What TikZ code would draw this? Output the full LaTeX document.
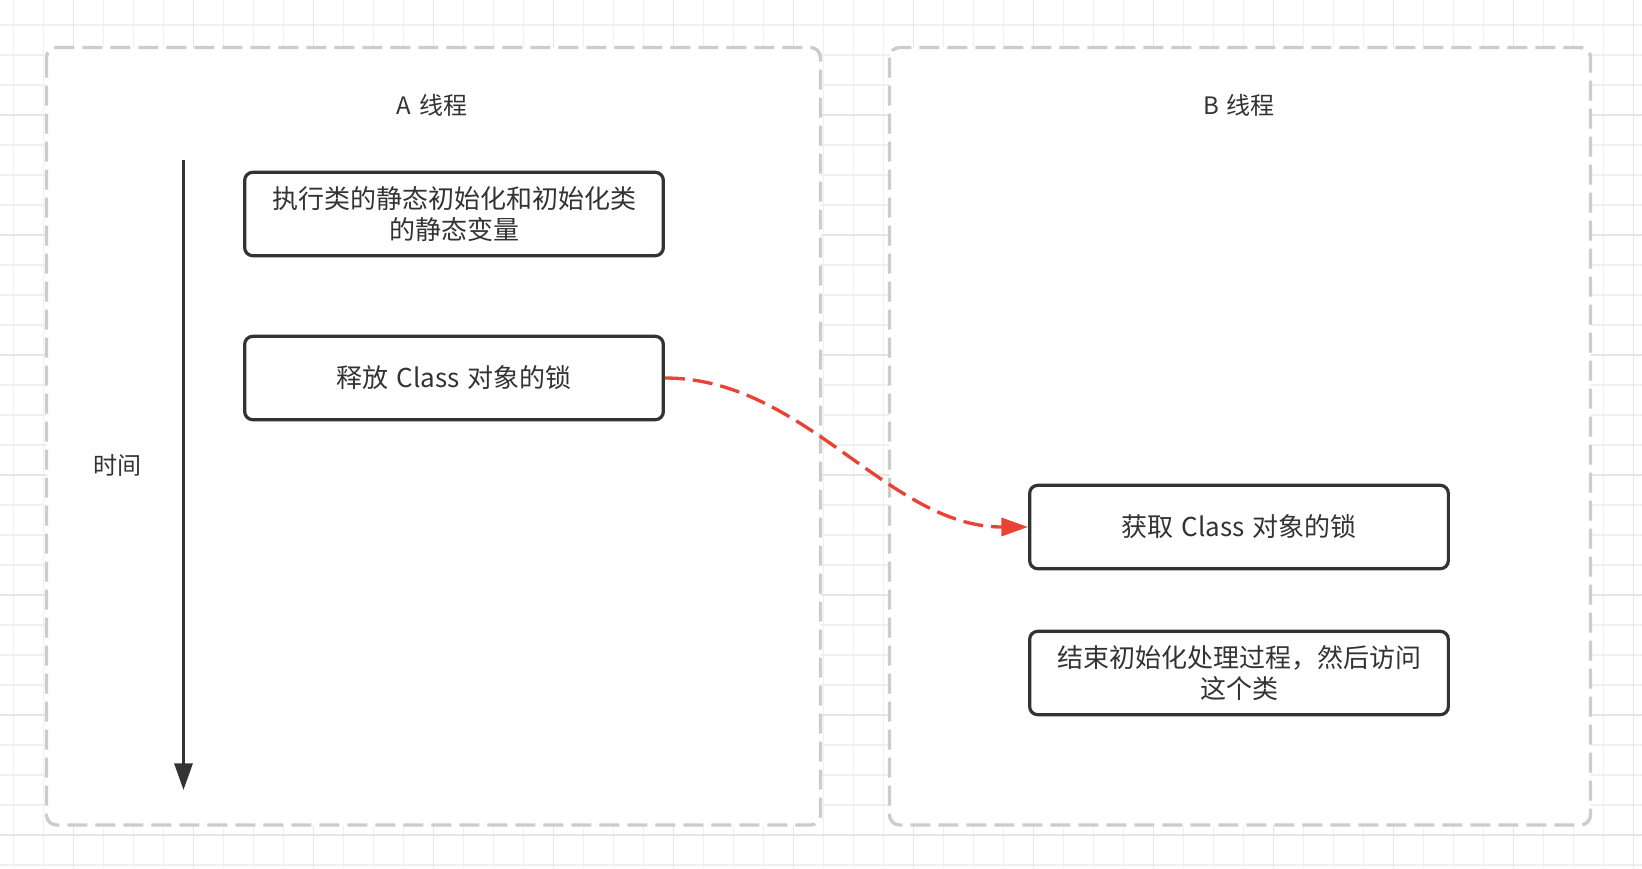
\documentclass[tikz,border=0pt]{standalone}
\usepackage{fontspec}
\setmainfont{Noto Sans CJK SC}
\usetikzlibrary{arrows.meta}
\definecolor{txt}{HTML}{333333}
\definecolor{gridminor}{HTML}{F0F0F0}
\definecolor{gridmajor}{HTML}{E6E6E6}
\definecolor{dashgray}{HTML}{CCCCCC}
\definecolor{redarrow}{HTML}{EA4335}
\newcommand{\wsp}{\hspace{0.32em}}
\begin{document}
\begin{tikzpicture}[x=0.75pt,y=-0.75pt,
  container/.style={draw=dashgray, line width=2.5pt, dash pattern=on 15pt off 6pt, fill=white, rounded corners=7.5pt},
  stepbox/.style={draw=txt, line width=2.4pt, rounded corners=6pt, fill=white,
    minimum width=314pt, minimum height=62.5pt, align=center, inner sep=0pt,
    font=\fontsize{19.5pt}{23.5pt}\selectfont, text=txt},
  titletext/.style={font=\fontsize{18pt}{22pt}\selectfont, text=txt, inner sep=0pt},
  bigtip/.style={-{Triangle[length=20pt,width=13.5pt]}},
]
% background and grid
\fill[white] (0,0) rectangle (1642,868);
\useasboundingbox (0,0) rectangle (1642,868);
\foreach \i in {0,...,54} {
  \pgfmathsetmacro{\xx}{13.3+30*\i}
  \draw[gridminor, line width=1.2pt] (\xx,0) -- (\xx,868);
}
\foreach \j in {0,...,28} {
  \pgfmathsetmacro{\yy}{25+30*\j}
  \draw[gridminor, line width=1.2pt] (0,\yy) -- (1642,\yy);
}
\foreach \i in {0,...,13} {
  \pgfmathsetmacro{\xx}{73.3+120*\i}
  \draw[gridmajor, line width=1.2pt] (\xx,0) -- (\xx,868);
}
\foreach \j in {0,...,6} {
  \pgfmathsetmacro{\yy}{115+120*\j}
  \draw[gridmajor, line width=1.2pt] (0,\yy) -- (1642,\yy);
}

% containers
\draw[container] (46.5,47.5) rectangle (820.5,825);
\draw[container] (889.5,47.5) rectangle (1590.5,825);

% titles
\node[titletext] (titleA) at (432,105) {A\wsp 线程};
\node[titletext] (titleB) at (1239,105) {B\wsp 线程};

% time axis
\coordinate (tstart) at (183.5,160);
\coordinate (tend) at (183.5,790);
\draw[txt, line width=2.4pt, bigtip] (tstart) -- (tend);
\node[titletext] (timelabel) at (117,465) {时间};

% boxes
\node[stepbox] (box1) at (454,214) {执行类的静态初始化和初始化类\\的静态变量};
\node[stepbox] (box2) at (454,378) {释放\wsp Class\wsp 对象的锁};
\node[stepbox] (box3) at (1239,527) {获取\wsp Class\wsp 对象的锁};
\node[stepbox] (box4) at (1239,673) {结束初始化处理过程，然后访问\\这个类};

% red dashed curve
\draw[redarrow, line width=2.5pt, dash pattern=on 15pt off 6pt, bigtip]
  (box2.east) .. controls +(140,0) and +(-140,0) .. (box3.west);
\end{tikzpicture}
\end{document}
